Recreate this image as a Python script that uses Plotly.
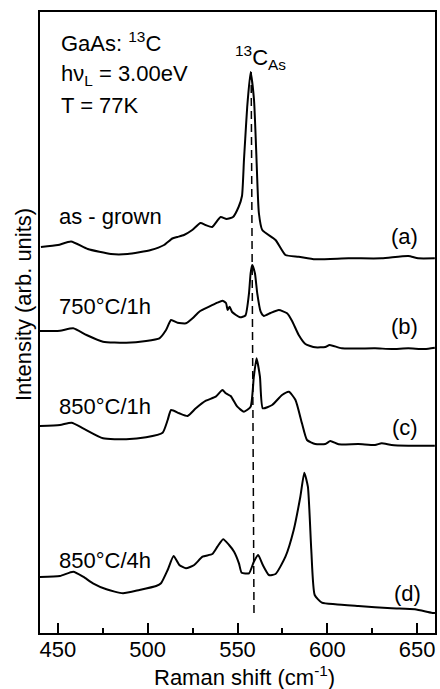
import plotly.graph_objects as go

# ---- data (Raman shift in cm^-1, intensity in arb. units, offset traces) ----
a_x = [440.5, 450.0, 457.3, 466.6, 479.5, 488.8, 501.7, 509.1, 513.7, 516.5, 520.2, 524.8,
       529.4, 532.2, 535.9, 540.6, 543.9, 547.5, 550.6, 552.5, 553.6, 554.3, 555.4, 557.3,
       559.2, 560.4, 561.9, 563.8, 571.2, 576.7, 584.1, 593.3, 611.8, 630.3, 645.1, 650.6, 659.9]
a_y = [386, 388, 391.5, 384, 379, 379, 383, 388, 394.5, 396, 398, 403,
       410, 408, 406, 416, 414, 416, 426, 437, 473, 494, 526, 561,
       533, 483, 420, 403, 393, 378, 376.3, 373.7, 374.7, 374.7, 377, 374.7, 374.7]

b_x = [440.0, 451.1, 458.5, 465.9, 475.1, 488.0, 499.1, 506.5, 510.2, 513.0, 516.6, 521.3,
       525.0, 528.7, 534.2, 538.8, 541.6, 543.6, 544.5, 545.6, 547.0, 551.4, 554.4, 556.4,
       557.3, 558.2, 559.7, 561.0, 562.9, 564.7, 568.4, 573.0, 577.6, 580.4, 584.1, 587.8,
       593.3, 598.9, 601.3, 608.1, 626.6, 635.8, 645.1, 654.3, 659.9]
b_y = [302, 302.3, 304.7, 298, 291.3, 290.3, 292, 294.7, 303, 313, 310.3, 309.7,
       314.7, 321.3, 326.3, 330.3, 332.3, 330, 323, 326.3, 321, 315.7, 317.5, 339.7,
       359.7, 368, 359.7, 339.7, 321.3, 317, 320, 323, 319.7, 312, 298, 289,
       285.7, 286, 288, 284.7, 284.7, 284, 284.7, 284, 285.3]

c_x = [440.0, 451.1, 457.6, 464.0, 475.1, 488.0, 499.1, 508.3, 511.1, 513.0, 517.6, 522.2,
       526.8, 532.4, 537.9, 541.6, 543.5, 546.2, 549.9, 553.6, 557.3, 559.1, 560.6, 562.5,
       564.1, 569.3, 574.8, 578.6, 582.3, 585.9, 588.7, 593.3, 598.9, 601.7, 606.3, 617.3,
       626.6, 630.3, 635.8, 645.1, 659.9]
c_y = [207, 208, 210.3, 204.7, 194.7, 193.7, 195.7, 200.3, 213, 223, 219.7, 217,
       224.7, 232.3, 236.3, 243, 239.7, 237, 226.3, 221.3, 226.3, 256.3, 274.7, 256.3,
       224.7, 228, 238, 241.3, 233, 209.7, 193, 189, 189, 192, 188.7, 189,
       188, 189.7, 188, 187.3, 187.3]

d_x = [440.0, 451.1, 458.5, 464.0, 469.5, 477.0, 486.2, 495.4, 504.7, 507.4, 511.1, 514.4,
       517.6, 521.3, 525.9, 530.5, 536.0, 538.8, 542.0, 545.3, 548.1, 550.8, 552.3, 556.4,
       559.1, 561.5, 564.1, 567.5, 571.2, 576.7, 581.3, 585.0, 587.2, 589.2, 591.1, 593.0,
       597.0, 604.4, 617.3, 635.8, 648.8, 658.0, 660.0]
d_y = [56, 57, 61.3, 56.3, 49.7, 43.7, 39.7, 43, 47, 49.7, 63, 77,
       68, 64.7, 68, 76.3, 79, 86.3, 93.7, 88, 81.3, 69.7, 60.3, 59.7,
       71.3, 78, 68, 58, 59, 76.3, 103, 136.3, 160.3, 146.3, 83, 38,
       30.3, 28.7, 27, 24.7, 23.7, 20.3, 20]

# dashed marker line for the 13C_As mode
dash_x = [557.6, 559.2]
dash_y = [561, 15]

sample_labels = ["as - grown", "750°C/1h", "850°C/1h", "850°C/4h"]
sample_label_y = [417, 326.5, 226.5, 73]
trace_tags = ["(a)", "(b)", "(c)", "(d)"]
trace_tag_x = [651.7, 651.7, 651.7, 653.4]
trace_tag_y = [397, 307, 205.5, 40]

info_lines = ["GaAs: <sup>13</sup>C", "hν<sub>L</sub> = 3.00eV", "T = 77K"]
info_y = [591.5, 558, 528]

x_ticks = [450, 500, 550, 600, 650]

FONT = "Liberation Sans, Arial, Helvetica, sans-serif"
FS = 22

fig = go.Figure()
for xs, ys in [(a_x, a_y), (b_x, b_y), (c_x, c_y), (d_x, d_y)]:
    fig.add_trace(go.Scatter(x=xs, y=ys, mode="lines",
                             line=dict(color="black", width=2, shape="spline", smoothing=0.5),
                             showlegend=False, hoverinfo="skip"))
fig.add_trace(go.Scatter(x=dash_x, y=dash_y, mode="lines",
                         line=dict(color="black", width=1.5, dash="8px,5px"),
                         showlegend=False, hoverinfo="skip"))

ann = []
for t, y in zip(info_lines, info_y):
    ann.append(dict(x=450.6, y=y, text=t, xanchor="left", yanchor="middle", showarrow=False))
ann.append(dict(x=562.9, y=576, text="<sup>13</sup>C<sub>As</sub>", xanchor="center",
                yanchor="middle", showarrow=False))
for t, y in zip(sample_labels, sample_label_y):
    ann.append(dict(x=449.5, y=y, text=t, xanchor="left", yanchor="middle", showarrow=False))
for t, x, y in zip(trace_tags, trace_tag_x, trace_tag_y):
    ann.append(dict(x=x, y=y, text=t, xanchor="right", yanchor="middle", showarrow=False))
ann.append(dict(xref="x", yref="paper", x=554.1, y=-0.0695, text="Raman shift (cm<sup>-1</sup>)",
                xanchor="center", yanchor="middle", showarrow=False))
ann.append(dict(xref="paper", yref="y", x=-0.043, y=328, text="Intensity (arb. units)",
                textangle=-90, xanchor="center", yanchor="middle", showarrow=False))

fig.update_layout(
    width=440, height=689,
    margin=dict(l=40, r=3, t=12, b=56),
    paper_bgcolor="white", plot_bgcolor="white",
    font=dict(family=FONT, size=FS, color="black"),
    annotations=ann,
    showlegend=False,
)
fig.update_xaxes(range=[440, 660], tickvals=x_ticks, ticks="inside", ticklen=10, tickwidth=1.5,
                 tickcolor="black", showline=True, linecolor="black", linewidth=1.5,
                 mirror=True, showgrid=False, zeroline=False, ticklabelstandoff=-4,
                 tickfont=dict(family=FONT, size=FS, color="black"),
                 minor=dict(tickvals=[475, 525, 575, 625], ticks="inside", ticklen=5,
                            tickwidth=1.5, tickcolor="black"))
fig.update_yaxes(range=[0, 621], showticklabels=False, ticks="", showline=True,
                 linecolor="black", linewidth=1.5, mirror=True, showgrid=False,
                 zeroline=False)

fig.write_html("out.html", config={"displayModeBar": False},
               post_script="document.body.style.margin='0';document.body.style.padding='0';")
